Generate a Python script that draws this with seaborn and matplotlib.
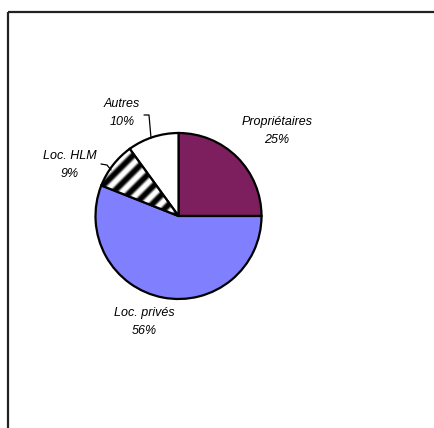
import matplotlib
matplotlib.use("Agg")
import matplotlib.pyplot as plt
import numpy as np
import seaborn as sns

categories = ["Propriétaires", "Loc. privés", "Loc. HLM", "Autres"]
values = [25, 56, 9, 10]
pct_labels = ["25%", "56%", "9%", "10%"]
colors = ["#7D1F5E", "#8080FF", "white", "white"]
striped = [False, False, True, False]

sns.set_style("white")
plt.rcParams["font.family"] = ["Liberation Sans", "DejaVu Sans"]

W, H = 434, 428
fig = plt.figure(figsize=(W / 100, H / 100), dpi=100)
ax = fig.add_axes([0, 0, 1, 1])

cx, cy, R = 178.5, H - 216, 83
wedges, _ = ax.pie(values, colors=colors, startangle=90, counterclock=False,
                   center=(cx, cy), radius=R, frame=True,
                   wedgeprops=dict(edgecolor="black", linewidth=1.6))

# diagonal stripe texture for striped wedges
period = 12 * np.sqrt(2)
xs = np.arange(cx - R - 2, cx + R + 2, 0.5)
ys = np.arange(cy - R - 2, cy + R + 2, 0.5)
XX, YY = np.meshgrid(xs, ys)
s = np.sin(2 * np.pi * (XX - YY) / period)
tex = 0.5 + 0.5 * np.clip(1.6 * s, -1, 1)
for w, st in zip(wedges, striped):
    if st:
        w.set_facecolor("none")
        w.set_zorder(2)
        im = ax.imshow(tex, cmap="gray", vmin=0, vmax=1, origin="lower",
                       extent=(xs[0], xs[-1], ys[0], ys[-1]),
                       interpolation="bilinear", zorder=1.5, aspect="auto")
        im.set_clip_path(w)

ax.set_xlim(0, W)
ax.set_ylim(0, H)
ax.set_aspect("auto")
ax.axis("off")

label_pos = [(277, 131), (144, 322), (70, 165), (122, 113)]
for name, pct, (x, y) in zip(categories, pct_labels, label_pos):
    ax.text(x, H - y, f"{name}\n{pct}", ha="center", va="center",
            fontsize=9, style="italic", linespacing=1.75, color="black")

# leader lines
ax.plot([144, 149, 151], [H - 115, H - 115, H - 138], color="black", lw=0.9)
ax.plot([101, 107, 111], [H - 164, H - 165, H - 170], color="black", lw=0.9)

# frame
ax.plot([8, W], [H - 12, H - 12], color="#222222", lw=1.6, solid_capstyle="butt")
ax.plot([8, 8], [H - 12, 0], color="#222222", lw=1.6, solid_capstyle="butt")

fig.savefig("out.png", dpi=100)
